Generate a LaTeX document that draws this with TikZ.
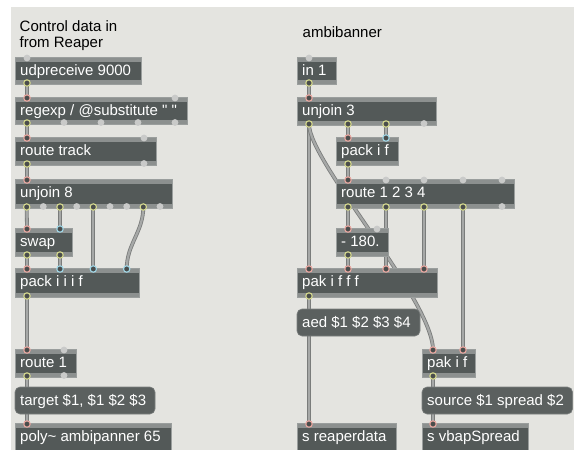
\documentclass[tikz,border=0pt]{standalone}
\usepackage{fontspec}
\newfontfamily\mxfont{Liberation Sans}
\definecolor{panel}{HTML}{E4E4E0}
\definecolor{objbody}{HTML}{535958}
\definecolor{objstrip}{HTML}{8C908F}
\definecolor{objline}{HTML}{9A9E9D}
\definecolor{msgbody}{HTML}{5B605F}
\definecolor{msgline}{HTML}{7C807F}
\definecolor{cordedge}{HTML}{7A7C7B}
\definecolor{cordfill}{HTML}{A6A8A7}
\definecolor{hotin}{HTML}{E9A7A0}
\definecolor{coldin}{HTML}{9FD6E6}
\definecolor{outring}{HTML}{D5D98E}
\definecolor{freeport}{HTML}{C9CAC9}
\definecolor{portdark}{HTML}{4A4D4C}
\tikzset{
  objbox/.style={rectangle, anchor=north west, inner sep=0pt, outer sep=0pt,
    fill=objbody, draw=objline, line width=0.5pt,
    path picture={
      \fill[objstrip] (path picture bounding box.north west) rectangle ([yshift=-4.5pt]path picture bounding box.north east);
      \fill[objstrip] (path picture bounding box.south west) rectangle ([yshift=4.5pt]path picture bounding box.south east);}},
  msgbox/.style={rectangle, rounded corners=5pt, anchor=north west, inner sep=0pt, outer sep=0pt,
    fill=msgbody, draw=msgline, line width=0.6pt},
  boxtext/.style={anchor=base west, inner sep=0pt, text=white, font=\mxfont\fontsize{15pt}{18pt}\selectfont},
  lbl/.style={anchor=base west, inner sep=0pt, text=black, font=\mxfont\fontsize{15pt}{18pt}\selectfont},
  cord/.style={draw=cordedge, double=cordfill, double distance=2.2pt, line width=0.8pt},
  portring/.style={fill=portdark, line width=1.1pt},
}
\newcommand{\mxobj}[6]{%
  \node[objbox, minimum width={(#4-#2)*1pt}, minimum height={(#5-#3)*1pt}] (#1) at (#2,-#3) {};
  \node[boxtext] (#1-t) at (#2+5,-#3-18.5) {#6};}
\newcommand{\mxmsg}[6]{%
  \node[msgbox, minimum width={(#4-#2)*1pt}, minimum height={(#5-#3)*1pt}] (#1) at (#2,-#3) {};
  \node[boxtext] (#1-t) at (#2+5,-#3-18) {#6};}
\newcommand{\pin}[3]{\coordinate (#1) at (#2,-#3-1);}
\newcommand{\pout}[3]{\coordinate (#1) at (#2,-#3+1);}
\newcommand{\freein}[2]{\fill[freeport] (#1,-#2-1) circle (3.4pt);}
\newcommand{\freeout}[2]{\fill[freeport] (#1,-#2+1.5) circle (3.4pt);}
\newcommand{\ring}[2]{\draw[portring, draw=#2] (#1) circle (3.2pt);}
\begin{document}
\begin{tikzpicture}[x=1pt,y=1pt]
\useasboundingbox (0,0) rectangle (574,-450);
\clip (0,0) rectangle (574,-450);
\fill[white] (0,0) rectangle (574,-450);
\fill[panel] (11,-7) rectangle (574,-450);

% ---------- port coordinates ----------
\pout{udp-o0}{27}{84}
\pin{reg-i0}{27}{97}
\pout{reg-o0}{27}{124}
\pin{rt-i0}{27}{137}
\pout{rt-o0}{27}{165}
\pin{uj8-i0}{27}{179}
\pout{uj8-o0}{26.7}{208}
\pout{uj8-o2}{60}{208}
\pout{uj8-o4}{93.3}{208}
\pout{uj8-o7}{143.3}{208}
\pin{swap-i0}{27}{228}
\pin{swap-i1}{60}{228}
\pout{swap-o0}{27}{256}
\pout{swap-o1}{60}{256}
\pin{pack-i0}{27}{268}
\pin{pack-i1}{60}{268}
\pin{pack-i2}{93.3}{268}
\pin{pack-i3}{126.7}{268}
\pout{pack-o0}{27}{297}
\pin{r1-i0}{27}{349}
\pout{r1-o0}{27}{377}
\coordinate (target-i) at (27,-387);
\coordinate (target-o) at (27,-414);
\pin{poly-i0}{27}{423}

\pout{in1-o0}{309}{84}
\pin{uj3-i0}{309}{97}
\pout{uj3-o0}{309}{125}
\pout{uj3-o1}{348}{125}
\pout{uj3-o2}{386}{125}
\pin{pif-i0}{348}{137}
\pin{pif-i1}{386}{137}
\pout{pif-o0}{348}{165}
\pin{r4-i0}{348}{179}
\pout{r4-o0}{348}{208}
\pout{r4-o1}{386}{208}
\pout{r4-o2}{424}{208}
\pout{r4-o3}{463}{208}
\pin{m180-i0}{348}{228}
\pout{m180-o0}{348}{256}
\pin{pak4-i0}{309}{268}
\pin{pak4-i1}{348}{268}
\pin{pak4-i2}{386}{268}
\pin{pak4-i3}{424}{268}
\pout{pak4-o0}{309}{297}
\coordinate (aed-i) at (309,-309);
\coordinate (aed-o) at (309,-336);
\pin{pak2-i0}{433}{349}
\pin{pak2-i1}{463}{349}
\pout{pak2-o0}{433}{377}
\coordinate (src-i) at (433,-387);
\coordinate (src-o) at (433,-414);
\pin{srd-i0}{309}{423}
\pin{svb-i0}{433}{423}

% ---------- cords ----------
\draw[cord] (udp-o0) -- (reg-i0);
\draw[cord] (reg-o0) -- (rt-i0);
\draw[cord] (rt-o0) -- (uj8-i0);
\draw[cord] (uj8-o0) -- (swap-i0);
\draw[cord] (uj8-o2) -- (swap-i1);
\draw[cord] (uj8-o4) -- (pack-i2);
\draw[cord] (uj8-o7) .. controls +(0,-25) and +(0,25) .. (pack-i3);
\draw[cord] (swap-o0) -- (pack-i0);
\draw[cord] (swap-o1) -- (pack-i1);
\draw[cord] (pack-o0) -- (r1-i0);
\draw[cord] (r1-o0) -- (target-i);
\draw[cord] (target-o) -- (poly-i0);

\draw[cord] (in1-o0) -- (uj3-i0);
\draw[cord] (uj3-o0) -- (pak4-i0);
\draw[cord] (uj3-o0) .. controls +(0,-38) and +(0,50) .. (pak2-i0);
\draw[cord] (uj3-o1) -- (pif-i0);
\draw[cord] (uj3-o2) -- (pif-i1);
\draw[cord] (pif-o0) -- (r4-i0);
\draw[cord] (r4-o0) -- (m180-i0);
\draw[cord] (r4-o1) -- (pak4-i2);
\draw[cord] (r4-o2) -- (pak4-i3);
\draw[cord] (r4-o3) -- (pak2-i1);
\draw[cord] (m180-o0) -- (pak4-i1);
\draw[cord] (pak4-o0) -- (aed-i);
\draw[cord] (aed-o) -- (srd-i0);
\draw[cord] (pak2-o0) -- (src-i);
\draw[cord] (src-o) -- (svb-i0);

% ---------- boxes ----------
\mxobj{udp}{15}{57}{141}{84}{udpreceive 9000}
\mxobj{reg}{15}{97}{187}{124}{regexp / @substitute " "}
\mxobj{rt}{15}{137}{156}{165}{route track}
\mxobj{uj8}{15}{179}{172}{208}{unjoin 8}
\mxobj{swap}{15}{228}{72}{256}{swap}
\mxobj{pack}{15}{268}{139}{297}{pack i i i f}
\mxobj{r1}{15}{349}{76}{377}{route 1}
\mxmsg{target}{15}{387}{155}{414}{target \$1, \$1 \$2 \$3}
\mxobj{poly}{15}{423}{171}{456}{poly\textasciitilde{} ambipanner 65}

\mxobj{in1}{297}{57}{336}{84}{in 1}
\mxobj{uj3}{297}{97}{436}{125}{unjoin 3}
\mxobj{pif}{336}{137}{398}{165}{pack i f}
\mxobj{r4}{336}{179}{514}{208}{route 1 2 3 4}
\mxobj{m180}{336}{228}{388}{256}{- 180.}
\mxobj{pak4}{297}{268}{437}{297}{pak i f f f}
\mxmsg{aed}{297}{309}{420}{336}{aed \$1 \$2 \$3 \$4}
\mxobj{pak2}{422}{349}{475}{377}{pak i f}
\mxmsg{src}{422}{387}{572.5}{414}{source \$1 spread \$2}
\mxobj{srd}{297}{423}{396}{456}{s reaperdata}
\mxobj{svb}{422}{423}{528}{456}{s vbapSpread}

% ---------- titles ----------
\node[lbl] (title1) at (19.5,-31) {Control data in};
\node[lbl] (title2) at (19.5,-47) {from Reaper};
\node[lbl] (title3) at (302.5,-37.5) {ambibanner};

% ---------- unconnected ports ----------
\freein{27}{57}
\freein{175}{97}
\freeout{64}{124}\freeout{101}{124}\freeout{138}{124}\freeout{175}{124}
\freein{144}{137}\freeout{144}{165}
\freeout{43.3}{208}\freeout{76.7}{208}\freeout{110}{208}\freeout{126.7}{208}\freeout{160}{208}
\freein{64}{349}\freeout{64}{377}
\freein{309}{57}
\freeout{424}{125}
\freein{386}{179}\freein{424}{179}\freein{463}{179}\freein{502}{179}
\freeout{502}{208}
\freein{377}{228}

% ---------- connected port rings ----------
\foreach \p in {udp-o0,reg-o0,rt-o0,uj8-o0,uj8-o2,uj8-o4,uj8-o7,swap-o0,swap-o1,pack-o0,r1-o0,
  in1-o0,uj3-o0,uj3-o1,uj3-o2,pif-o0,r4-o0,r4-o1,r4-o2,r4-o3,m180-o0,pak4-o0,pak2-o0}
  {\ring{\p}{outring}}
\foreach \p in {reg-i0,rt-i0,uj8-i0,swap-i0,pack-i0,r1-i0,poly-i0,uj3-i0,pif-i0,r4-i0,m180-i0,
  pak4-i0,pak4-i1,pak4-i2,pak4-i3,pak2-i0,pak2-i1,srd-i0,svb-i0}
  {\ring{\p}{hotin}}
\foreach \p in {swap-i1,pack-i1,pack-i2,pack-i3,pif-i1}
  {\ring{\p}{coldin}}
\end{tikzpicture}
\end{document}
